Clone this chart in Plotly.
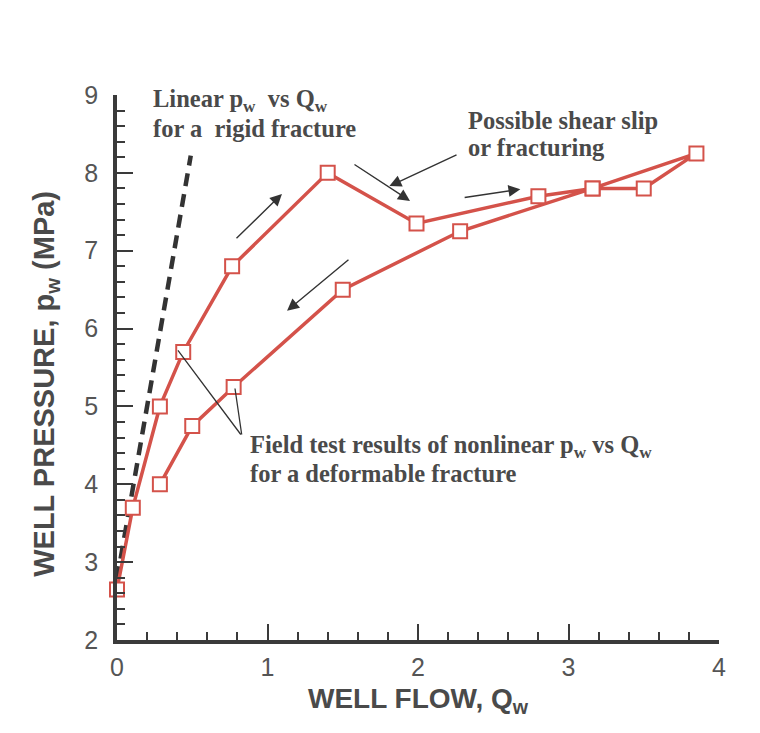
import plotly.graph_objects as go

# Field test data (loading then unloading path)
flow_q = [0.0, 0.105, 0.285, 0.44, 0.765, 1.40, 1.99, 2.80, 3.16, 3.50, 3.85,
          3.16, 2.28, 1.50, 0.775, 0.50, 0.285]
pressure_p = [2.65, 3.70, 5.00, 5.70, 6.80, 8.00, 7.35, 7.70, 7.80, 7.80, 8.25,
              7.80, 7.25, 6.50, 5.25, 4.75, 4.00]

# Linear rigid-fracture line
linear_q = [0.0, 0.49]
linear_p = [2.78, 8.22]

x_ticks = [0, 1, 2, 3, 4]
y_ticks = [2, 3, 4, 5, 6, 7, 8, 9]

RED = "#d4524a"
AX = "#3a3a3a"
TXT = "#4a4a4a"
SERIF = "Liberation Serif, Times New Roman, serif"
SANS = "Liberation Sans, Arial, sans-serif"

fig = go.Figure()
fig.add_trace(go.Scatter(x=linear_q, y=linear_p, mode="lines",
                         line=dict(color="#333333", width=4.5, dash="13px,8px"),
                         showlegend=False, cliponaxis=False))
fig.add_trace(go.Scatter(x=flow_q, y=pressure_p, mode="lines+markers",
                         line=dict(color=RED, width=3.5),
                         marker=dict(symbol="square", size=14, color="white",
                                     line=dict(color=RED, width=2)),
                         showlegend=False, cliponaxis=False))

ann = []
def arrow(x0, y0, x1, y1, head=2, width=1.4):
    ann.append(dict(x=x1, y=y1, ax=x0, ay=y0, xref="x", yref="y", axref="x", ayref="y",
                    text="", showarrow=True, arrowhead=head, arrowsize=1.7,
                    arrowwidth=width, arrowcolor="#333333"))

arrow(0.784, 7.14, 1.096, 7.73)
arrow(1.548, 6.90, 1.13, 6.23)
arrow(1.568, 8.12, 1.947, 7.64)
arrow(2.30, 7.68, 2.68, 7.79)
arrow(2.266, 8.24, 1.81, 7.83)
# pointer lines (no heads)
ann.append(dict(x=0.405, y=5.72, ax=0.83, ay=4.62, xref="x", yref="y", axref="x", ayref="y",
                text="", showarrow=True, arrowhead=0, arrowwidth=1.3, arrowcolor="#333333"))
ann.append(dict(x=0.784, y=5.23, ax=0.83, ay=4.62, xref="x", yref="y", axref="x", ayref="y",
                text="", showarrow=True, arrowhead=0, arrowwidth=1.3, arrowcolor="#333333"))

def label(x, y, text):
    ann.append(dict(x=x, y=y, xref="x", yref="y", text="<b>" + text + "</b>", showarrow=False,
                    xanchor="left", yanchor="middle", align="left",
                    font=dict(family=SERIF, size=24.5, color=TXT)))

label(0.225, 8.93, "Linear p<sub>w</sub>  vs Q<sub>w</sub>")
label(0.225, 8.57, "for a  rigid fracture")
label(2.32, 8.67, "Possible shear slip")
label(2.32, 8.32, "or fracturing")
label(0.87, 4.49, "Field test results of nonlinear p<sub>w</sub> vs Q<sub>w</sub>")
label(0.87, 4.14, "for a deformable fracture")

# y-axis title as rotated annotation
ann.append(dict(x=-0.118, y=0.47, xref="paper", yref="paper", showarrow=False,
                text="<b>WELL PRESSURE, p<sub>w</sub> (MPa)</b>", textangle=-90,
                xanchor="center", yanchor="middle",
                font=dict(family=SANS, size=29, color=TXT)))

fig.update_layout(
    width=760, height=733,
    margin=dict(l=117, r=41, t=95, b=93),
    paper_bgcolor="white", plot_bgcolor="white",
    annotations=ann,
    xaxis=dict(range=[0, 4], tickvals=x_ticks, ticks="inside", ticklen=16, tickwidth=2,
               tickcolor=AX, showline=True, linecolor=AX, linewidth=3.5, showgrid=False,
               zeroline=False, tickfont=dict(family=SANS, size=25, color="#555555"),
               ticklabelstandoff=2,
               minor=dict(dtick=0.2, ticks="inside", ticklen=8, tickwidth=1.5, tickcolor=AX),
               title=dict(text="<b>WELL FLOW, Q<sub>w</sub></b>", standoff=10,
                          font=dict(family=SANS, size=28, color=TXT))),
    yaxis=dict(range=[2, 9], tickvals=y_ticks, ticks="inside", ticklen=16, tickwidth=2,
               tickcolor=AX, showline=True, linecolor=AX, linewidth=3.5, showgrid=False,
               zeroline=False, tickfont=dict(family=SANS, size=25, color="#555555"),
               ticklabelstandoff=10,
               minor=dict(dtick=0.2, ticks="inside", ticklen=8, tickwidth=1.5, tickcolor=AX)),
)

fig.write_html("out.html")
